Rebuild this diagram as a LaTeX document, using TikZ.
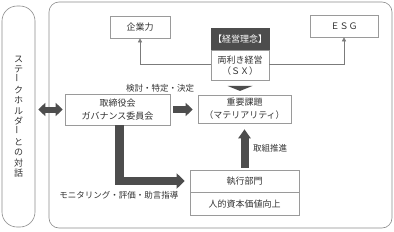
\documentclass[tikz,border=0pt]{standalone}
\usepackage{fontspec}
\setmainfont{Noto Sans CJK JP}
\usetikzlibrary{arrows.meta,calc}
\definecolor{dk}{HTML}{4D4D4D}
\definecolor{bd}{HTML}{9A9A9A}
\definecolor{tx}{HTML}{333333}
\begin{document}
\begin{tikzpicture}[x=1pt,y=-1pt,
  font=\fontsize{9}{10.5}\selectfont, text=tx,
  box/.style={draw=bd, line width=0.6pt, fill=white, inner sep=0pt, align=center},
  frame/.style={draw=bd!90!black, line width=0.6pt, inner sep=0pt},
  conn/.style={draw=bd!80!black, line width=0.6pt, -{Triangle[width=4pt,length=4pt]}},
  blk/.style={draw=dk, line width=#1},
  lbl/.style={inner sep=0pt, font=\fontsize{8.5}{10}\selectfont}
]
\useasboundingbox (0,0) rectangle (394,231);
% outer frames
\node[frame, rounded corners=10pt, minimum width=343pt, minimum height=226pt] (main) at (220.5,115) {};
\node[frame, rounded corners=15pt, minimum width=33pt, minimum height=221pt, align=center,
      font=\fontsize{9}{10.4}\selectfont] (stake) at (18.5,116.5)
  {ス\\テ\\\rotatebox{90}{ー}\\ク\\ホ\\ル\\ダ\\\rotatebox{90}{ー}\\と\\の\\対\\話};
% top boxes
\node[box, minimum width=60pt, minimum height=22pt] (kig) at (140,27) {企業力};
\node[box, minimum width=68pt, minimum height=22pt] (esg) at (344,26) {ＥＳＧ};
\node[box, fill=dk, draw=dk, text=white, minimum width=58pt, minimum height=22pt] (rinen) at (240,39) {【経営理念】};
\node[box, anchor=north, minimum width=58pt, minimum height=30pt, align=center,
      font=\fontsize{9}{11.5}\selectfont] (sx) at (rinen.south) {両利き経営\\（ＳＸ）};
\draw[conn] ([yshift=1pt]sx.west) -| (kig.south);
\draw[conn] ([yshift=1pt]sx.east) -| (esg.south);
% middle boxes
\node[box, minimum width=93pt, minimum height=28pt, font=\fontsize{9}{13}\selectfont] (mat) at (244.5,109) {重要課題\\（マテリアリティ）};
\node[box, minimum width=105pt, minimum height=31pt, font=\fontsize{9}{13}\selectfont] (gov) at (117.5,109.5) {取締役会\\ガバナンス委員会};
% bottom boxes
\node[box, minimum width=109pt, minimum height=22pt] (exec) at (244.5,181) {執行部門};
\node[box, anchor=north, minimum width=109pt, minimum height=23pt] (hum) at (exec.south) {人的資本価値向上};
% down triangle
\fill[dk] ($(sx.south)+(-12.5,5)$) -- ($(sx.south)+(12.5,5)$) -- ($(sx.south)+(0,10)$) -- cycle;
% block arrows
\draw[blk=6pt, {Triangle[width=13pt,length=7pt]}-{Triangle[width=13pt,length=7pt]}, shorten <=3pt, shorten >=2pt]
  (stake.east |- gov.west) -- (gov.west);
\draw[blk=7pt, -{Triangle[width=13pt,length=7pt]}, shorten <=3pt, shorten >=5pt]
  (gov.east) -- (gov.east -| mat.west);
\draw[blk=8pt, -{Triangle[width=12pt,length=9pt]}, shorten <=2pt, shorten >=6pt]
  (exec.north) -- (mat.south);
\draw[blk=8.5pt, line join=miter, -{Triangle[width=15pt,length=8pt]}, shorten >=5pt]
  ([xshift=2pt]gov.south) |- (exec.west);
% labels
\node[lbl] (l1) at (160,88) {検討・特定・決定};
\node[lbl] (l2) at (119,195) {モニタリング・評価・助言指導};
\node[lbl, anchor=west] (l3) at (253,148) {取組推進};
\end{tikzpicture}
\end{document}
